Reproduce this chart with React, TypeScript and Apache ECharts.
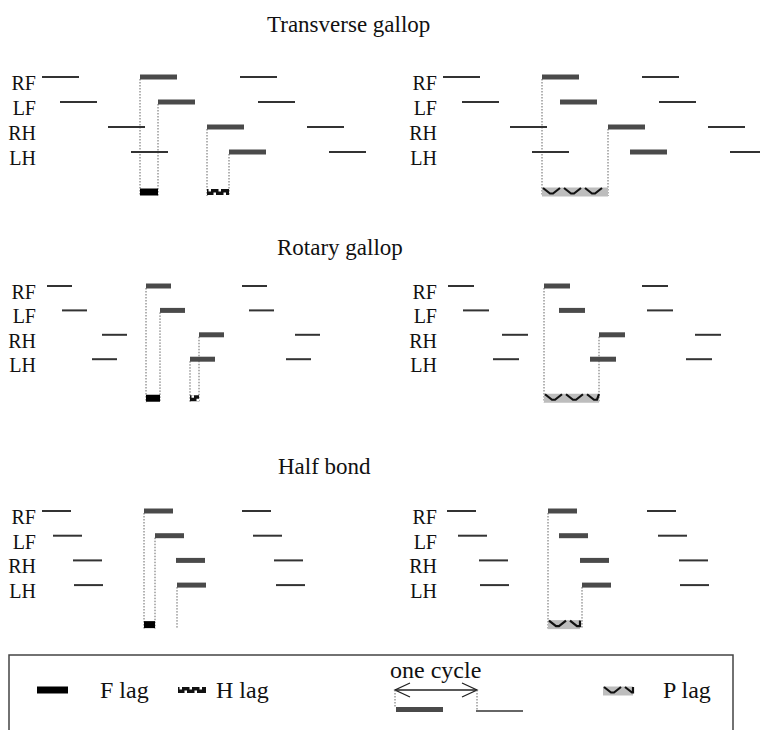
import React, { useEffect, useRef } from 'react';
import * as echarts from 'echarts';

const LIMBS = ['RF', 'LF', 'RH', 'LH'];
const TITLES = ['Transverse gallop', 'Rotary gallop', 'Half bond'];

// footfall onsets (time units ≈ % of stride cycle) per limb [RF, LF, RH, LH], three consecutive cycles
const transverseFootfalls = [[2, 100, 200], [20, 118, 218], [68, 167, 267], [91, 189, 289]];
const transversePFootfalls = [[3, 102, 202], [22, 120, 219], [70, 168, 268], [92, 190, 290]];
const rotaryFootfalls = [[7, 106, 202], [22, 120, 209], [62, 159, 255], [52, 150, 246]];
const rotaryPFootfalls = [[8, 104, 202], [23, 119, 207], [62, 159, 255], [53, 150, 246]];
const halfBondFootfalls = [[2, 104, 202], [13, 115, 213], [33, 136, 234], [34, 137, 236]];
const halfBondPFootfalls = [[7, 108, 207], [18, 119, 218], [39, 140, 239], [40, 142, 240]];

// stance durations per panel (same time units)
const stanceDurations = [37, 37, 25, 26, 29, 29];

// lags measured in the second (highlighted) cycle: [from limb, to limb, kind]
const transverseLags = [['RF', 'LF', 'F'], ['RH', 'LH', 'H']];
const transversePLags = [['RF', 'RH', 'P']];
const rotaryLags = [['RF', 'LF', 'F'], ['LH', 'RH', 'H']];
const rotaryPLags = [['RF', 'RH', 'P']];
const halfBondLags = [['RF', 'LF', 'F']];
const halfBondPLags = [['RF', 'RH', 'P']];

// limbs whose highlighted footfall drops a dotted guide line
const transverseGuides = ['RF', 'LF', 'RH', 'LH'];
const transversePGuides = ['RF', 'RH'];
const rotaryGuides = ['RF', 'LF', 'LH', 'RH'];
const rotaryPGuides = ['RF', 'RH'];
const halfBondGuides = ['RF', 'LF', 'LH'];
const halfBondPGuides = ['RF', 'LH'];

const FONT = '"Liberation Serif", "Times New Roman", serif';
const LAG_ROW = 5.6;

// layout
const COL_LEFT = [40, 440];
const COL_WIDTH = [330, 320];
const ROW_RF_Y = [77, 286, 511];
const ROW_UNIT = [25, 24.4, 24.7];
const TITLE_POS = [[267, 24], [277, 247], [278, 466]];

function lagShapes(kind: number, x0: number, x1: number, y: number): any[] {
  const w = Math.max(0, x1 - x0);
  if (kind === 3) {
    return [{ type: 'rect', shape: { x: x0, y: y - 3.5, width: w, height: 7 }, style: { fill: '#000' } }];
  }
  if (kind === 4) {
    const ch: any[] = [{ type: 'rect', shape: { x: x0, y: y - 3, width: w, height: 6 }, style: { fill: '#111' } }];
    let k = 0;
    for (let s = x0 + 1.5; s < x0 + w - 2; s += 5, k++) {
      ch.push({
        type: 'rect',
        shape: { x: s, y: k % 2 ? y + 0.5 : y - 3, width: 2.5, height: 2.5 },
        style: { fill: '#fff' },
      });
    }
    return ch;
  }
  const ch: any[] = [{ type: 'rect', shape: { x: x0, y: y - 4.5, width: w, height: 9 }, style: { fill: '#bdbdbd' } }];
  const xe = x0 + w;
  for (let s = x0 + 1; s < xe - 3; s += 21) {
    const pts = [
      [s, y - 4],
      [s + 7, y + 1.5],
      [s + 10, y + 1.5],
      [s + 17, y - 4],
    ].map((p) => [Math.min(p[0], xe), p[1]]);
    ch.push({ type: 'polyline', shape: { points: pts }, style: { stroke: '#111', lineWidth: 2.2, fill: null } });
  }
  return ch;
}

function buildData(footfalls: number[][], stance: number, lags: string[][], guides: string[]) {
  const d: number[][] = [];
  guides.forEach((l) => {
    const li = LIMBS.indexOf(l);
    const t = footfalls[li][1];
    d.push([2, t, t, li + 1]);
  });
  footfalls.forEach((onsets, li) =>
    onsets.forEach((t, c) => d.push([c === 1 ? 1 : 0, t, t + stance, li + 1]))
  );
  lags.forEach(([f, to, k]) => {
    const a = footfalls[LIMBS.indexOf(f)][1];
    const b = footfalls[LIMBS.indexOf(to)][1];
    d.push([k === 'F' ? 3 : k === 'H' ? 4 : 5, a, b, LAG_ROW]);
  });
  return d;
}

const PANELS = [
  { ff: transverseFootfalls, lags: transverseLags, guides: transverseGuides, col: 0, row: 0 },
  { ff: transversePFootfalls, lags: transversePLags, guides: transversePGuides, col: 1, row: 0 },
  { ff: rotaryFootfalls, lags: rotaryLags, guides: rotaryGuides, col: 0, row: 1 },
  { ff: rotaryPFootfalls, lags: rotaryPLags, guides: rotaryPGuides, col: 1, row: 1 },
  { ff: halfBondFootfalls, lags: halfBondLags, guides: halfBondGuides, col: 0, row: 2 },
  { ff: halfBondPFootfalls, lags: halfBondPLags, guides: halfBondPGuides, col: 1, row: 2 },
];

const renderItem = (params: any, api: any) => {
  const kind = api.value(0);
  const a = api.value(1);
  const b = api.value(2);
  const row = api.value(3);
  const p1 = api.coord([a, row]);
  const p2 = api.coord([b, row]);
  if (kind === 0) {
    return {
      type: 'line',
      shape: { x1: p1[0], y1: p1[1], x2: p2[0], y2: p2[1] },
      style: { stroke: '#333', lineWidth: 2 },
    };
  }
  if (kind === 1) {
    return {
      type: 'rect',
      shape: { x: p1[0], y: p1[1] - 2.5, width: p2[0] - p1[0], height: 5 },
      style: { fill: '#4a4a4a' },
    };
  }
  if (kind === 2) {
    const q = api.coord([a, LAG_ROW]);
    return {
      type: 'line',
      shape: { x1: p1[0], y1: p1[1] + 2, x2: p1[0], y2: q[1] + 4 },
      style: { stroke: '#666', lineWidth: 1, lineDash: [1.5, 1.5] },
    };
  }
  return { type: 'group', children: lagShapes(kind, p1[0], p2[0], p1[1]) };
};

function textEl(text: string, x: number, y: number, size: number) {
  return {
    type: 'text',
    x,
    y,
    style: {
      text,
      font: `${size}px ${FONT}`,
      fill: '#111',
      textAlign: 'left',
      textVerticalAlign: 'middle',
      align: 'left',
      verticalAlign: 'middle',
    },
  };
}

function legendElements(): any[] {
  const els: any[] = [];
  els.push({
    type: 'polyline',
    shape: { points: [[9, 760], [9, 655], [733, 655], [733, 760]] },
    style: { fill: null, stroke: '#444', lineWidth: 1.5 },
  });
  els.push({ type: 'group', children: lagShapes(3, 37, 68, 690) });
  els.push(textEl('F lag', 100, 690, 24));
  els.push({ type: 'group', children: lagShapes(4, 178, 206, 690) });
  els.push(textEl('H lag', 216, 690, 24));
  els.push(textEl('one cycle', 390, 670, 24));
  els.push({ type: 'line', shape: { x1: 395, y1: 690, x2: 477, y2: 690 }, style: { stroke: '#222', lineWidth: 1.3 } });
  els.push({ type: 'polyline', shape: { points: [[410, 683], [395, 690], [410, 697]] }, style: { stroke: '#222', lineWidth: 1.3, fill: null } });
  els.push({ type: 'polyline', shape: { points: [[462, 683], [477, 690], [462, 697]] }, style: { stroke: '#222', lineWidth: 1.3, fill: null } });
  els.push({ type: 'line', shape: { x1: 395, y1: 690, x2: 395, y2: 708 }, style: { stroke: '#666', lineWidth: 1, lineDash: [1.5, 1.5] } });
  els.push({ type: 'line', shape: { x1: 477, y1: 690, x2: 477, y2: 711 }, style: { stroke: '#666', lineWidth: 1, lineDash: [1.5, 1.5] } });
  els.push({ type: 'rect', shape: { x: 396, y: 707, width: 47, height: 5 }, style: { fill: '#4a4a4a' } });
  els.push({ type: 'line', shape: { x1: 476, y1: 711, x2: 523, y2: 711 }, style: { stroke: '#333', lineWidth: 1.6 } });
  els.push({ type: 'group', children: lagShapes(5, 603, 633, 691) });
  els.push(textEl('P lag', 663, 690, 24));
  return els;
}

export default function App() {
  const ref = useRef<HTMLDivElement>(null);
  useEffect(() => {
    if (!ref.current) return;
    const chart = echarts.init(ref.current, null, { renderer: 'svg' });
    const grids = PANELS.map((p) => {
      const u = ROW_UNIT[p.row];
      return {
        left: COL_LEFT[p.col],
        width: COL_WIDTH[p.col],
        top: ROW_RF_Y[p.row] - u,
        height: 6 * u,
        containLabel: false,
      };
    });
    const option: any = {
      animation: false,
      backgroundColor: '#fff',
      grid: grids,
      xAxis: PANELS.map((p, i) => ({
        type: 'value',
        gridIndex: i,
        min: 0,
        max: COL_WIDTH[p.col],
        show: false,
      })),
      yAxis: PANELS.map((p, i) => ({
        type: 'value',
        gridIndex: i,
        min: 0,
        max: 6,
        interval: 1,
        inverse: true,
        axisLine: { show: false },
        axisTick: { show: false },
        splitLine: { show: false },
        axisLabel: {
          formatter: (v: number) => LIMBS[v - 1] ?? '',
          fontFamily: FONT,
          fontSize: 20,
          color: '#111',
          margin: p.col === 0 ? 4 : 3,
          verticalAlign: 'top',
          lineHeight: 12,
        },
      })),
      series: PANELS.map((p, i) => ({
        type: 'custom',
        xAxisIndex: i,
        yAxisIndex: i,
        clip: false,
        renderItem,
        encode: { x: [1, 2], y: 3 },
        data: buildData(p.ff, stanceDurations[i], p.lags, p.guides),
      })),
      graphic: [
        ...TITLES.map((t, i) => textEl(t, TITLE_POS[i][0], TITLE_POS[i][1], 23)),
        ...legendElements(),
      ],
    };
    chart.setOption(option);
    return () => chart.dispose();
  }, []);
  return (
    <div
      ref={ref}
      style={{ position: 'absolute', left: 0, top: 0, width: 760, height: 730, background: '#fff' }}
    />
  );
}
